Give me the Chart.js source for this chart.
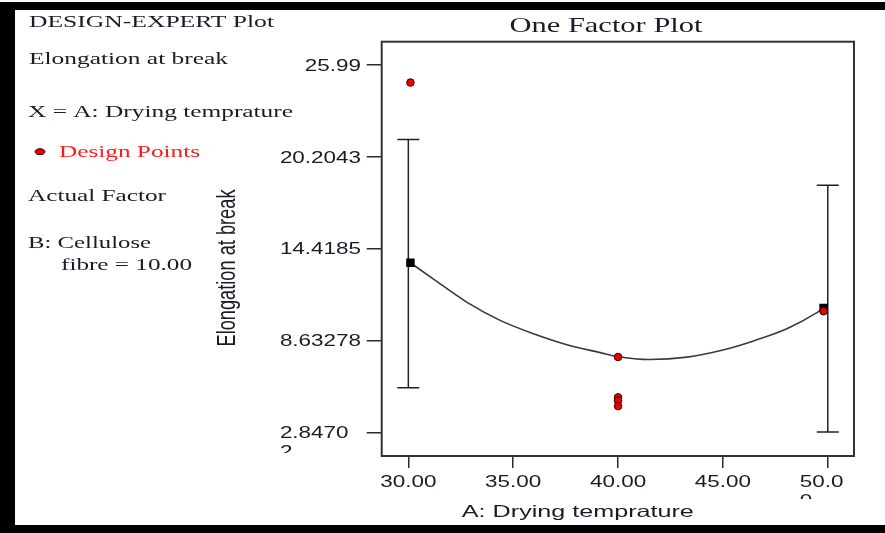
<!DOCTYPE html>
<html>
<head>
<meta charset="utf-8">
<script src="https://cdn.jsdelivr.net/npm/chart.js@4.4.1/dist/chart.umd.min.js"></script>
<style>
  html,body{margin:0;padding:0;background:#fff}
  #wrap{width:885px;height:533px;position:relative}
</style>
</head>
<body>
<div id="wrap"><canvas id="c"></canvas></div>
<script>
// One factor plot: elongation at break vs drying temperature, cellulose fibre = 10.00

const xTicks=[30,35,40,45,50];
const xTickLabels=['30.00','35.00','40.00','45.00','50.0\n0'];
const yTicks=[2.8470,8.63278,14.4185,20.2043,25.99];
const yTickLabels=['2.8470\n2','8.63278','14.4185','20.2043','25.99'];

// model prediction line
const fitX=[30.1,31.2,32.8,34.4,36.0,37.6,39.2,39.9,41.5,43.3,44.9,46.5,48.1,49.5,49.8];
const fitY=[13.52,12.49,11.03,9.88,9.04,8.35,7.85,7.64,7.43,7.58,8.00,8.62,9.40,10.40,10.68];

// predicted means at the factor ends
const meanX=[30.1,49.8];
const meanY=[13.52,10.68];

// LSD bars
const barX=[30,50];
const barLow=[5.65,2.87];
const barHigh=[21.27,18.39];

// design points (runs)
const ptX=[30.1,40,40,40,40,49.8];
const ptY=[24.86,7.59,5.05,4.85,4.50,10.47];

const TXT='#1a1a28';
const SANS='"Liberation Sans", Arial, sans-serif';
const SERIF='"Liberation Serif", "Times New Roman", serif';

// draws text squeezed/widened horizontally; w = target width or null, sx = fixed stretch
function wideText(c,str,x,y,font,opt){
  c.save();
  c.font=font;
  const nat=c.measureText(str).width;
  const sx=opt.w?opt.w/nat:(opt.sx||1);
  c.translate(x,y); c.scale(sx,1);
  c.textAlign=opt.align||'left'; c.textBaseline='alphabetic';
  c.fillStyle=opt.color||TXT;
  c.fillText(str,0,0);
  c.restore();
}

// tick label that may wrap onto a second line: the block is placed as one string,
// every line starts at the block's left edge, anything below clipY is cut off
const TICK_FONT='16.5px '+SANS, TICK_SX=1.36;
function tickLabel(c,str,x,y,align,clipY){
  const lines=str.split('\n');
  c.save();
  c.font=TICK_FONT;
  const w=c.measureText(lines.join('')).width*TICK_SX;
  const left=align==='right'?x-w:align==='center'?x-w/2:x;
  c.beginPath(); c.rect(0,0,c.canvas.width,clipY); c.clip();
  lines.forEach((ln,i)=>wideText(c,ln,left,y+i*19,TICK_FONT,{sx:TICK_SX}));
  c.restore();
}

const lsdBars={id:'lsdBars',beforeDatasetsDraw(chart){
  const c=chart.ctx,x=chart.scales.x,y=chart.scales.y;
  c.save(); c.strokeStyle='#222'; c.lineWidth=1.5;
  barX.forEach((bx,i)=>{
    const px=x.getPixelForValue(bx),y1=y.getPixelForValue(barLow[i]),y2=y.getPixelForValue(barHigh[i]);
    c.beginPath();
    c.moveTo(px,y1); c.lineTo(px,y2);
    c.moveTo(px-11,y1); c.lineTo(px+11,y1);
    c.moveTo(px-11,y2); c.lineTo(px+11,y2);
    c.stroke();
  });
  c.restore();
}};

const decor={id:'decor',
  beforeDraw(chart){
    const c=chart.ctx; c.save(); c.fillStyle='#fff'; c.fillRect(0,0,chart.width,chart.height); c.restore();
  },
  afterDraw(chart){
    const c=chart.ctx,a=chart.chartArea,x=chart.scales.x,y=chart.scales.y;
    c.save();
    c.strokeStyle='#333'; c.lineWidth=2;
    c.strokeRect(a.left,a.top,a.right-a.left,a.bottom-a.top);
    c.restore();

    // tick labels
    yTicks.forEach((v,i)=>tickLabel(c,yTickLabels[i],361,y.getPixelForValue(v)+6,'right',453));
    xTicks.forEach((v,i)=>tickLabel(c,xTickLabels[i],x.getPixelForValue(v),486.5,'center',499));

    // axis titles
    wideText(c,'A: Drying temprature',(a.left+a.right)/2-40,516.5,'16.5px '+SANS,{w:232,align:'center'});
    c.save();
    c.translate(228,268); c.rotate(-Math.PI/2); c.scale(1,1.4);
    c.font='18px '+SANS; c.fillStyle=TXT; c.textAlign='center'; c.textBaseline='middle';
    const tw=c.measureText('Elongation at break').width;
    c.scale(157/tw,1);
    c.fillText('Elongation at break',0,0);
    c.restore();

    // plot title
    wideText(c,'One Factor Plot',606,31.5,'21px '+SERIF,{w:193,align:'center'});

    // side panel
    const pf='17px '+SERIF;
    wideText(c,'DESIGN-EXPERT Plot',29,27.3,pf,{w:245});
    wideText(c,'Elongation at break',29,64,pf,{w:199});
    wideText(c,'X = A: Drying temprature',28,116.5,pf,{w:265});
    c.save();
    c.fillStyle='#e00000'; c.strokeStyle='#400'; c.lineWidth=1;
    c.beginPath(); c.ellipse(40,151.7,5,3,0,0,Math.PI*2); c.fill(); c.stroke();
    c.restore();
    wideText(c,'Design Points',59,156.5,pf,{w:141,color:'#ff1a1a'});
    wideText(c,'Actual Factor',28,200.5,pf,{w:138});
    wideText(c,'B: Cellulose',28,248.3,pf,{w:123});
    wideText(c,'fibre = 10.00',61,270,pf,{w:131});

    // frame
    c.save(); c.fillStyle='#000';
    c.fillRect(0,2,chart.width,8);
    c.fillRect(0,2,15,chart.height);
    c.fillRect(0,525,chart.width,8);
    c.restore();
  }
};

const tickGrid=len=>({drawOnChartArea:false,drawTicks:true,tickLength:len,color:'#2a2a2a',lineWidth:1.5});

new Chart(document.getElementById('c').getContext('2d'),{
  type:'scatter',
  plugins:[decor,lsdBars],
  data:{datasets:[
    {label:'Design Points',data:ptX.map((v,i)=>({x:v,y:ptY[i]})),pointRadius:3.8,pointBackgroundColor:'#ee0000',pointBorderColor:'#3a0000',pointBorderWidth:1},
    {label:'Predicted',data:meanX.map((v,i)=>({x:v,y:meanY[i]})),pointStyle:'rect',pointRadius:6,pointBackgroundColor:'#000',pointBorderColor:'#000',pointBorderWidth:0},
    {label:'Model',data:fitX.map((v,i)=>({x:v,y:fitY[i]})),showLine:true,pointRadius:0,borderColor:'#3a3a3a',borderWidth:1.6,cubicInterpolationMode:'monotone',fill:false}
  ]},
  options:{
    responsive:true,maintainAspectRatio:false,animation:false,
    layout:{padding:{left:0,right:31,top:41.7,bottom:0}},
    plugins:{legend:{display:false},tooltip:{enabled:false}},
    scales:{
      x:{type:'linear',min:28.73,max:51.25,
        afterBuildTicks:s=>{s.ticks=xTicks.map(v=>({value:v}));},
        afterFit:s=>{s.height=77;},
        ticks:{display:false},grid:tickGrid(12),border:{display:false}},
      y:{type:'linear',min:1.361,max:27.43,
        afterBuildTicks:s=>{s.ticks=yTicks.map(v=>({value:v}));},
        afterFit:s=>{s.width=381.7;},
        ticks:{display:false},grid:tickGrid(15),border:{display:false}}
    }
  }
});
</script>
</body>
</html>
